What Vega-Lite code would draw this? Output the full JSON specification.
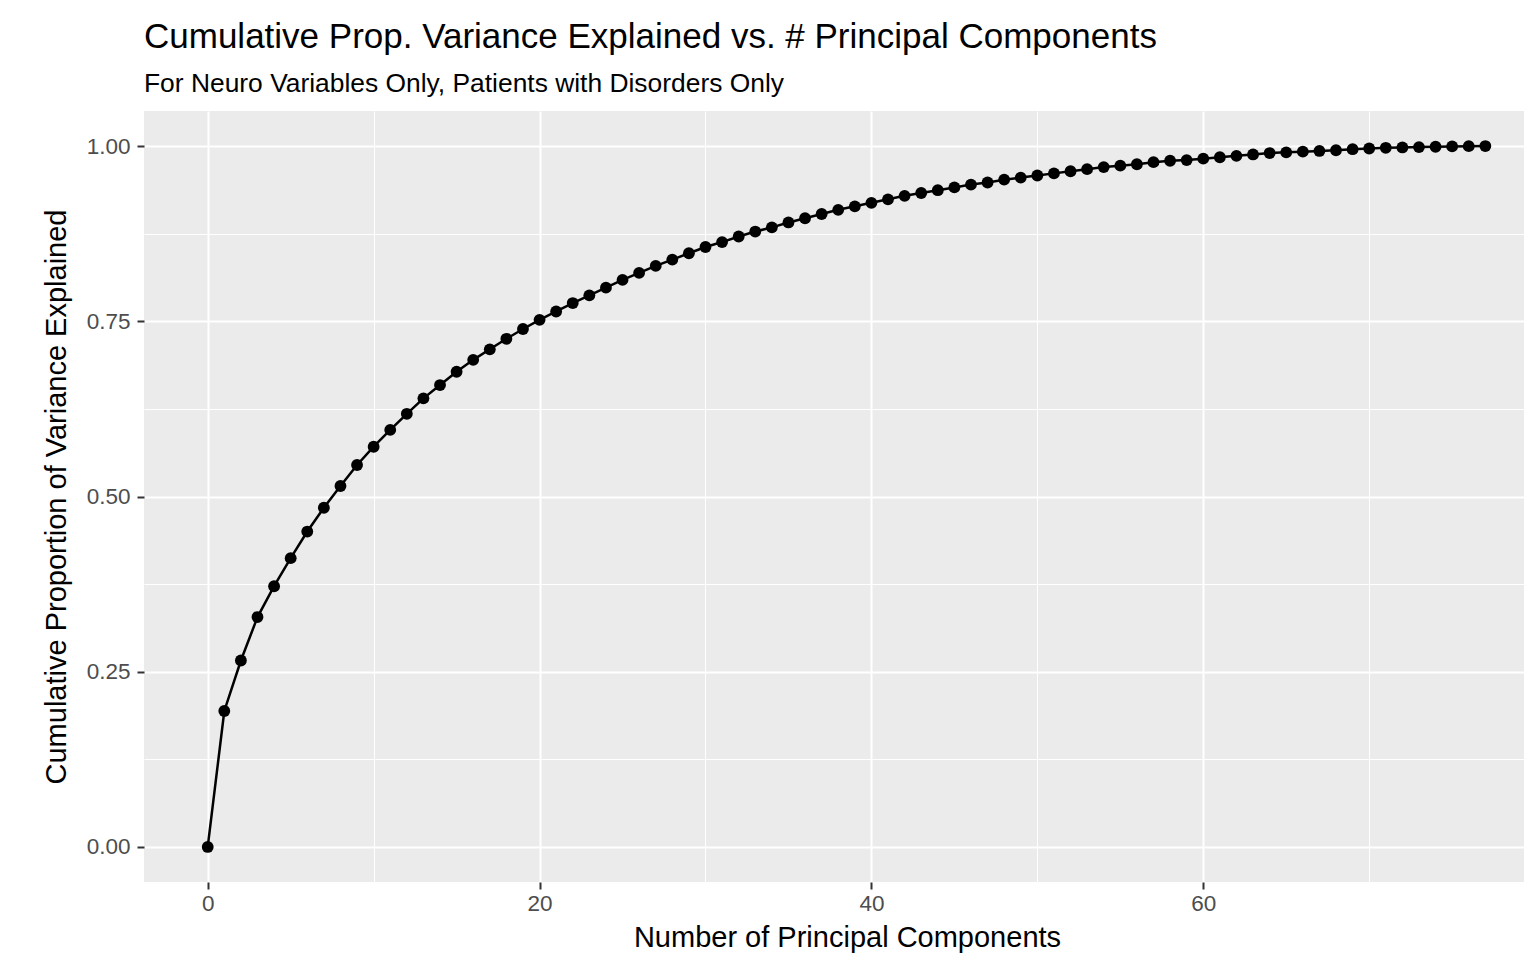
{
  "$schema": "https://vega.github.io/schema/vega-lite/v6.json",
  "autosize": {"type": "none"},
  "width": 1380,
  "height": 771,
  "padding": {"left": 144, "top": 111, "right": 0, "bottom": 74},
  "background": "white",
  "config": {
    "font": "Liberation Sans",
    "view": {"fill": "#EBEBEB", "stroke": null},
    "axis": {
      "domain": false,
      "labelFont": "Liberation Sans",
      "titleFont": "Liberation Sans",
      "labelFontSize": 22.5,
      "labelColor": "#4D4D4D",
      "titleFontSize": 29,
      "titleFontWeight": "normal",
      "titleColor": "#000000",
      "tickColor": "#333333",
      "tickWidth": 2,
      "gridColor": "#FFFFFF"
    }
  },
  "title": {
    "text": "Cumulative Prop. Variance Explained vs. # Principal Components",
    "subtitle": "For Neuro Variables Only, Patients with Disorders Only",
    "anchor": "start",
    "frame": "group",
    "font": "Liberation Sans",
    "subtitleFont": "Liberation Sans",
    "fontSize": 35,
    "fontWeight": "normal",
    "subtitleFontSize": 26.4,
    "color": "#000000",
    "subtitleColor": "#000000",
    "offset": 14,
    "subtitlePadding": 16
  },
  "data": {
    "values": [
      {"pc": 0, "cum": 0},
      {"pc": 1, "cum": 0.194},
      {"pc": 2, "cum": 0.266},
      {"pc": 3, "cum": 0.328},
      {"pc": 4, "cum": 0.372},
      {"pc": 5, "cum": 0.412},
      {"pc": 6, "cum": 0.450},
      {"pc": 7, "cum": 0.484},
      {"pc": 8, "cum": 0.515},
      {"pc": 9, "cum": 0.545},
      {"pc": 10, "cum": 0.571},
      {"pc": 11, "cum": 0.595},
      {"pc": 12, "cum": 0.618},
      {"pc": 13, "cum": 0.640},
      {"pc": 14, "cum": 0.659},
      {"pc": 15, "cum": 0.678},
      {"pc": 16, "cum": 0.695},
      {"pc": 17, "cum": 0.710},
      {"pc": 18, "cum": 0.725},
      {"pc": 19, "cum": 0.739},
      {"pc": 20, "cum": 0.752},
      {"pc": 21, "cum": 0.764},
      {"pc": 22, "cum": 0.776},
      {"pc": 23, "cum": 0.787},
      {"pc": 24, "cum": 0.798},
      {"pc": 25, "cum": 0.809},
      {"pc": 26, "cum": 0.819},
      {"pc": 27, "cum": 0.829},
      {"pc": 28, "cum": 0.838},
      {"pc": 29, "cum": 0.847},
      {"pc": 30, "cum": 0.856},
      {"pc": 31, "cum": 0.863},
      {"pc": 32, "cum": 0.871},
      {"pc": 33, "cum": 0.878},
      {"pc": 34, "cum": 0.884},
      {"pc": 35, "cum": 0.891},
      {"pc": 36, "cum": 0.897},
      {"pc": 37, "cum": 0.903},
      {"pc": 38, "cum": 0.909},
      {"pc": 39, "cum": 0.914},
      {"pc": 40, "cum": 0.919},
      {"pc": 41, "cum": 0.924},
      {"pc": 42, "cum": 0.929},
      {"pc": 43, "cum": 0.933},
      {"pc": 44, "cum": 0.937},
      {"pc": 45, "cum": 0.941},
      {"pc": 46, "cum": 0.945},
      {"pc": 47, "cum": 0.948},
      {"pc": 48, "cum": 0.952},
      {"pc": 49, "cum": 0.955},
      {"pc": 50, "cum": 0.958},
      {"pc": 51, "cum": 0.961},
      {"pc": 52, "cum": 0.964},
      {"pc": 53, "cum": 0.967},
      {"pc": 54, "cum": 0.970},
      {"pc": 55, "cum": 0.972},
      {"pc": 56, "cum": 0.974},
      {"pc": 57, "cum": 0.977},
      {"pc": 58, "cum": 0.979},
      {"pc": 59, "cum": 0.980},
      {"pc": 60, "cum": 0.982},
      {"pc": 61, "cum": 0.984},
      {"pc": 62, "cum": 0.986},
      {"pc": 63, "cum": 0.988},
      {"pc": 64, "cum": 0.990},
      {"pc": 65, "cum": 0.991},
      {"pc": 66, "cum": 0.992},
      {"pc": 67, "cum": 0.993},
      {"pc": 68, "cum": 0.994},
      {"pc": 69, "cum": 0.9955},
      {"pc": 70, "cum": 0.9965},
      {"pc": 71, "cum": 0.9975},
      {"pc": 72, "cum": 0.998},
      {"pc": 73, "cum": 0.9985},
      {"pc": 74, "cum": 0.999},
      {"pc": 75, "cum": 0.9995},
      {"pc": 76, "cum": 0.9998},
      {"pc": 77, "cum": 1.0}
    ]
  },
  "encoding": {
    "x": {
      "field": "pc",
      "type": "quantitative",
      "scale": {"domain": [-3.84, 79.33], "nice": false, "zero": false},
      "axis": {
        "title": "Number of Principal Components",
        "values": [0, 10, 20, 30, 40, 50, 60, 70],
        "labelExpr": "datum.value % 20 === 0 ? datum.label : ''",
        "gridWidth": {"condition": {"test": "datum.value % 20 !== 0", "value": 1}, "value": 2},
        "tickOpacity": {"condition": {"test": "datum.value % 20 !== 0", "value": 0}, "value": 1},
        "tickSize": 7,
        "labelPadding": 3,
        "titlePadding": 9,
        "titleX": 703,
        "labelFlush": false,
        "labelOverlap": false
      }
    },
    "y": {
      "field": "cum",
      "type": "quantitative",
      "scale": {"domain": [-0.05, 1.05], "nice": false, "zero": false},
      "axis": {
        "title": "Cumulative Proportion of Variance Explained",
        "values": [0, 0.125, 0.25, 0.375, 0.5, 0.625, 0.75, 0.875, 1.0],
        "format": ".2f",
        "labelExpr": "(datum.value * 4) % 1 === 0 ? datum.label : ''",
        "gridWidth": {"condition": {"test": "(datum.value * 4) % 1 !== 0", "value": 1}, "value": 2},
        "tickOpacity": {"condition": {"test": "(datum.value * 4) % 1 !== 0", "value": 0}, "value": 1},
        "tickSize": 7,
        "labelPadding": 7,
        "titlePadding": 15,
        "labelFlush": false,
        "labelOverlap": false
      }
    }
  },
  "layer": [
    {"mark": {"type": "line", "color": "#000000", "strokeWidth": 2.5}},
    {"mark": {"type": "point", "filled": true, "color": "#000000", "opacity": 1, "size": 140}}
  ]
}
